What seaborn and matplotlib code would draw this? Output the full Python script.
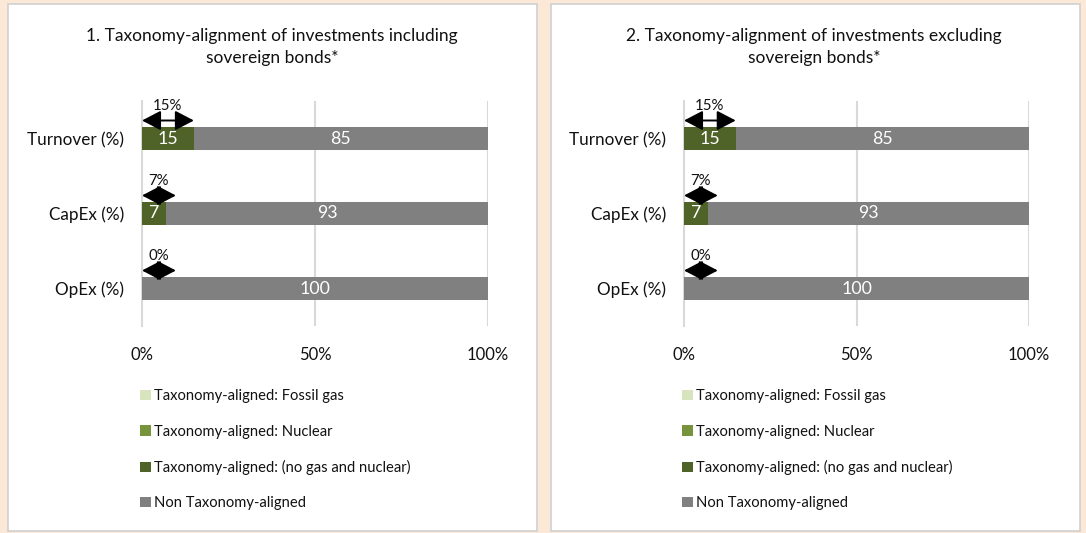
import matplotlib
matplotlib.use("Agg")
import matplotlib.pyplot as plt
from matplotlib.patches import Rectangle, Patch
import seaborn as sns
import numpy as np

# ---- data -----------------------------------------------------------------
categories = ["Turnover (%)", "CapEx (%)", "OpEx (%)"]

incl_fossil_gas = [0, 0, 0]
incl_nuclear = [0, 0, 0]
incl_aligned = [15, 7, 0]          # no gas and nuclear
incl_non_aligned = [85, 93, 100]

excl_fossil_gas = [0, 0, 0]
excl_nuclear = [0, 0, 0]
excl_aligned = [15, 7, 0]
excl_non_aligned = [85, 93, 100]

titles = [
    "1. Taxonomy-alignment of investments including\nsovereign bonds*",
    "2. Taxonomy-alignment of investments excluding\nsovereign bonds*",
]
x_ticks = [0, 50, 100]
x_tick_labels = ["0%", "50%", "100%"]

legend_labels = [
    "Taxonomy-aligned: Fossil gas",
    "Taxonomy-aligned: Nuclear",
    "Taxonomy-aligned: (no gas and nuclear)",
    "Non Taxonomy-aligned",
]

# ---- style ----------------------------------------------------------------
sns.set_theme(style="white")
plt.rcParams["font.family"] = ["Lato", "DejaVu Sans"]

C_GAS = "#D7E4BD"
C_NUCLEAR = "#77933C"
C_ALIGNED = "#4F6228"
C_NON = "#808080"
C_GRID = "#D9D9D9"
C_BG = "#FCE8D6"
TEXT = "#111111"

W, H = 1086, 533
fig = plt.figure(figsize=(W / 100, H / 100), dpi=100, facecolor=C_BG)

# white panels behind each chart
for (x0, x1) in [(8, 537), (551, 1080)]:
    fig.patches.append(Rectangle((x0 / W, 1 - 531 / H), (x1 - x0) / W, (531 - 4) / H,
                                 transform=fig.transFigure, facecolor="white",
                                 edgecolor="#D0D0D0", linewidth=1.2, zorder=-10))

panels = [
    (142, 488, incl_aligned, incl_nuclear, incl_fossil_gas, incl_non_aligned, 272),
    (684, 1029, excl_aligned, excl_nuclear, excl_fossil_gas, excl_non_aligned, 814),
]

for k, (px0, px1, aligned, nuclear, gas, non, title_x) in enumerate(panels):
    ax = fig.add_axes([px0 / W, 1 - 326 / H, (px1 - px0) / W, 225 / H])
    ax.set_facecolor("none")

    # cumulative stacks: aligned | nuclear | gas | non-aligned
    segs = [np.array(aligned, float), np.array(nuclear, float),
            np.array(gas, float), np.array(non, float)]
    seg_colors = [C_ALIGNED, C_NUCLEAR, C_GAS, C_NON]
    cums = np.cumsum(segs, axis=0)
    starts = cums - segs

    # draw from the longest stack to the shortest so each segment stays visible
    for j in range(3, -1, -1):
        sns.barplot(x=cums[j], y=categories, order=categories, orient="h",
                    color=seg_colors[j], saturation=1, width=0.3,
                    linewidth=0, ax=ax, zorder=3)

    # value labels inside the segments
    for j in range(4):
        for i, v in enumerate(segs[j]):
            if v > 0:
                ax.text(starts[j][i] + v / 2, i, f"{v:.0f}", color="white",
                        ha="center", va="center", fontsize=12.8, zorder=5)

    # double-headed arrows above each bar with the aligned share
    for i, v in enumerate(segs[0] + segs[1] + segs[2]):
        span = max(v, 9.8)
        ax.annotate("", xy=(0, i - 0.24), xytext=(span, i - 0.24),
                    arrowprops=dict(arrowstyle="<|-|>,head_length=1.15,head_width=0.6",
                                    mutation_scale=10, color="black", lw=1.4,
                                    shrinkA=0, shrinkB=0),
                    zorder=6, annotation_clip=False)
        ax.text(span / 2, i - 0.43, f"{v:.0f}%", ha="center", va="center",
                fontsize=10.8, color=TEXT, zorder=6)

    ax.set_xlim(0, 100)
    ax.set_ylim(2.5, -0.5)
    ax.set_xticks(x_ticks)
    ax.set_xticklabels(x_tick_labels, fontsize=12, color=TEXT)
    ax.tick_params(axis="x", length=0, pad=15)
    ax.set_yticks(range(len(categories)))
    ax.set_yticklabels(categories, fontsize=12.3, color=TEXT)
    ax.tick_params(axis="y", which="major", length=0, pad=13)
    ax.set_yticks(np.arange(-0.5, len(categories)), minor=True)
    ax.tick_params(axis="y", which="minor", length=4, width=1.2, color=C_GRID)
    ax.set_xlabel("")
    ax.set_ylabel("")

    for x in x_ticks[1:]:
        ax.axvline(x, color=C_GRID, lw=1.5, zorder=1)
    for s in ["top", "right", "bottom"]:
        ax.spines[s].set_visible(False)
    ax.spines["left"].set_color(C_GRID)
    ax.spines["left"].set_linewidth(1.5)
    ax.spines["left"].set_zorder(2)

    fig.text(title_x / W, 1 - 47 / H, titles[k], ha="center", va="center",
             fontsize=12.5, color=TEXT, linespacing=1.45)

    handles = [Patch(facecolor=c, edgecolor="none")
               for c in [C_GAS, C_NUCLEAR, C_ALIGNED, C_NON]]
    fig.legend(handles, legend_labels, loc="upper left",
               bbox_to_anchor=((px0 - 9) / W, 1 - 382 / H), frameon=False,
               fontsize=10.6, handlelength=0.7, handleheight=0.7,
               handletextpad=0.25, labelspacing=1.45, borderpad=0,
               labelcolor=TEXT)

fig.savefig("out.png", dpi=100, facecolor=C_BG)
